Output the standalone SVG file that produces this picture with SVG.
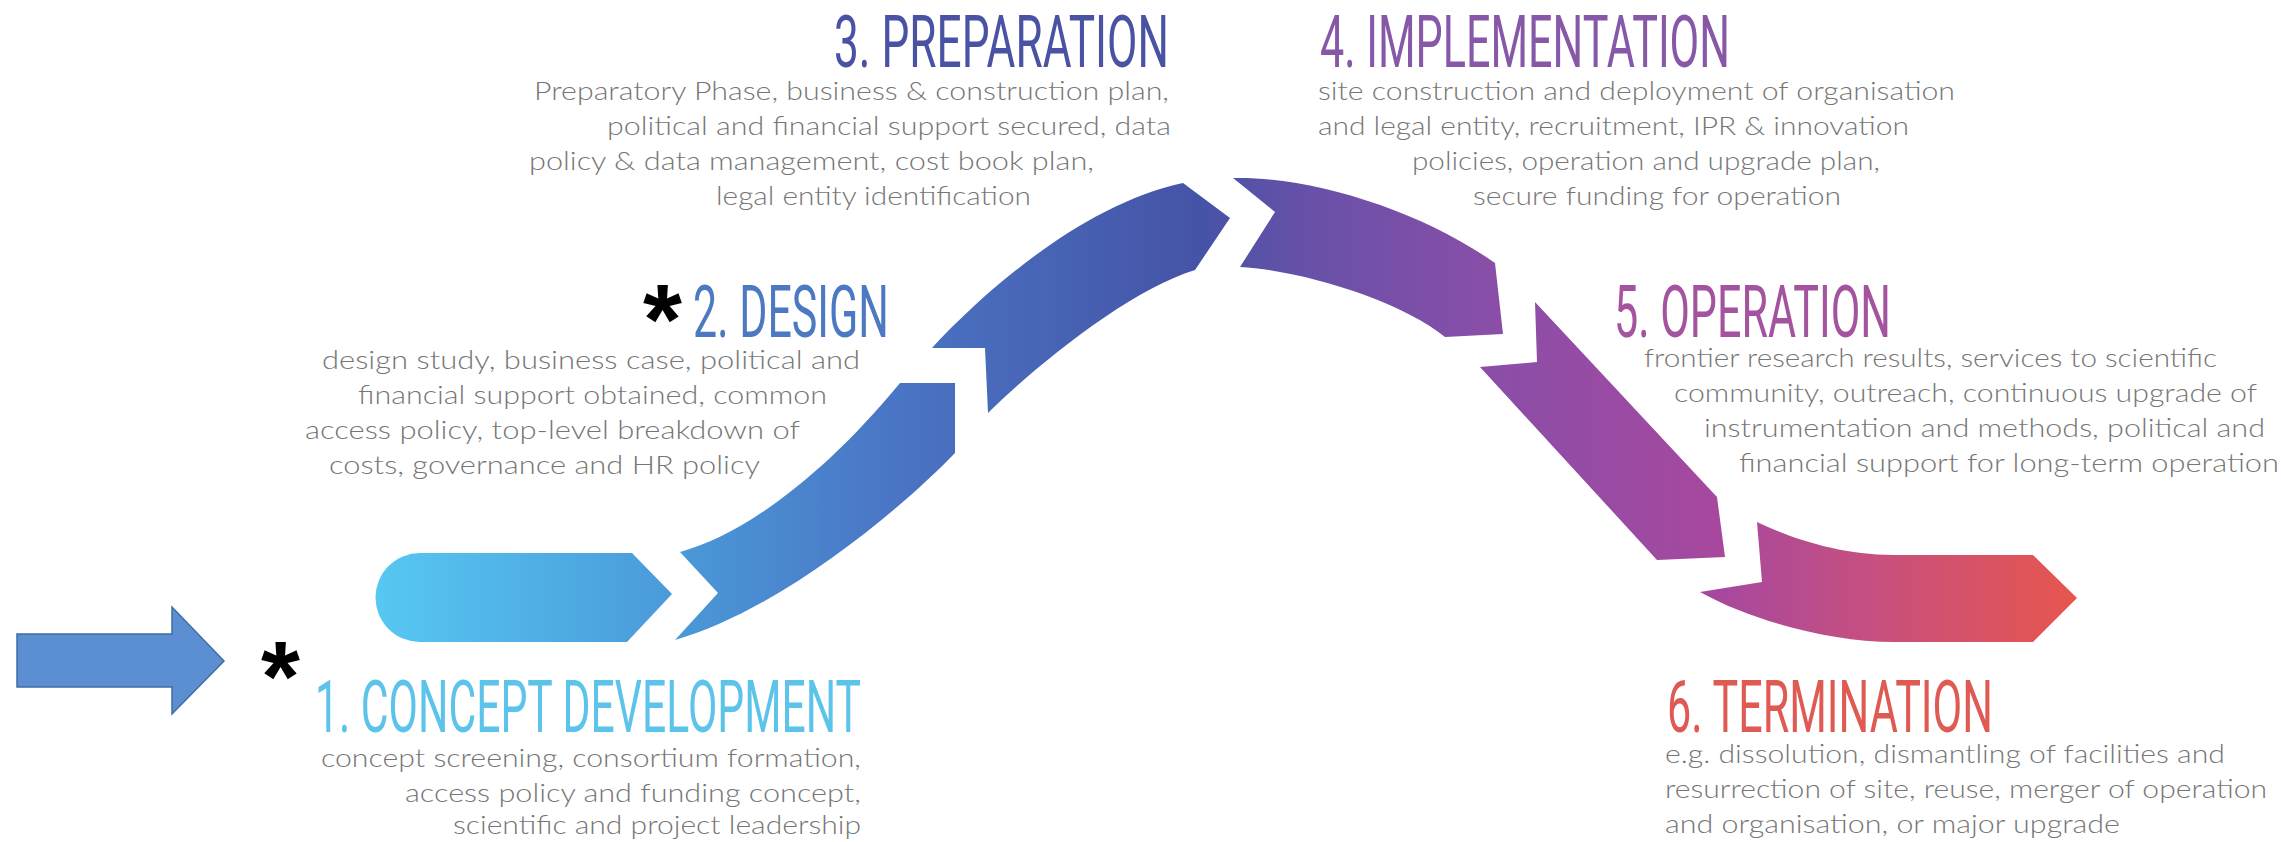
<svg xmlns="http://www.w3.org/2000/svg" width="2281" height="842" viewBox="0 0 2281 842">
<defs>
<linearGradient id="rib" gradientUnits="userSpaceOnUse" x1="376" y1="0" x2="2080" y2="0">
<stop offset="0" stop-color="#56c8f2"/>
<stop offset="0.174" stop-color="#4a9ad9"/>
<stop offset="0.307" stop-color="#4a74c4"/>
<stop offset="0.484" stop-color="#4553a6"/>
<stop offset="0.542" stop-color="#6651a8"/>
<stop offset="0.66" stop-color="#8b4ea8"/>
<stop offset="0.789" stop-color="#a7489e"/>
<stop offset="0.865" stop-color="#c24f84"/>
<stop offset="1" stop-color="#e8564d"/>
</linearGradient>
</defs>
<style>
.seg{fill:url(#rib);}
.title{font-family:Roboto,"Liberation Sans",sans-serif;font-weight:400;font-size:72px;}
.body{font-family:Lato,"Open Sans","Liberation Sans",sans-serif;font-weight:300;font-size:25px;fill:#767676;}
.star{font-family:"Liberation Sans",Arial,sans-serif;font-weight:bold;font-size:100px;fill:#000;}
</style>
<rect width="2281" height="842" fill="#ffffff"/>

<g id="annotations">
<path d="M17,634 H172 V607 L224,661 L172,714 V687 H17 Z" fill="#5b8fd2" stroke="#3f6ea3" stroke-width="1.5"/>
</g>

<g id="phase1">
<path class="seg" d="M420,553 L632,553 L672,594 L627,642 L420,642 A44.5,44.5 0 0 1 420,553 Z"/>
<text class="star" x="261" y="711">*</text>
<text class="title" x="315" y="732" fill="#5cc3ea" textLength="546" lengthAdjust="spacingAndGlyphs">1. CONCEPT DEVELOPMENT</text>
<text class="body" x="321" y="767" textLength="540" lengthAdjust="spacingAndGlyphs">concept screening, consortium formation,</text>
<text class="body" x="405" y="802" textLength="456" lengthAdjust="spacingAndGlyphs">access policy and funding concept,</text>
<text class="body" x="453" y="834" textLength="408" lengthAdjust="spacingAndGlyphs">scientific and project leadership</text>
</g>

<g id="phase2">
<path class="seg" d="M680,552 L718,593 L675,640 C780,610 900,510 955,453 L955,383 L900,383 C820,480 740,536 680,552 Z"/>
<text class="star" x="643" y="354">*</text>
<text class="title" x="693" y="337" fill="#4c79c2" textLength="196" lengthAdjust="spacingAndGlyphs">2. DESIGN</text>
<text class="body" x="322" y="369" textLength="538" lengthAdjust="spacingAndGlyphs">design study, business case, political and</text>
<text class="body" x="358" y="404" textLength="469" lengthAdjust="spacingAndGlyphs">financial support obtained, common</text>
<text class="body" x="305" y="439" textLength="495" lengthAdjust="spacingAndGlyphs">access policy, top-level breakdown of</text>
<text class="body" x="329" y="474" textLength="431" lengthAdjust="spacingAndGlyphs">costs, governance and HR policy</text>
</g>

<g id="phase3">
<path class="seg" d="M932,348 L985,348 L988,413 C1040,362 1130,290 1195,270 L1230,218 L1183,183 C1080,205 980,296 932,348 Z"/>
<text class="title" x="834" y="67" fill="#4a53a3" textLength="335" lengthAdjust="spacingAndGlyphs">3. PREPARATION</text>
<text class="body" x="534" y="100" textLength="635" lengthAdjust="spacingAndGlyphs">Preparatory Phase, business &amp; construction plan,</text>
<text class="body" x="607" y="135" textLength="564" lengthAdjust="spacingAndGlyphs">political and financial support secured, data</text>
<text class="body" x="529" y="170" textLength="565" lengthAdjust="spacingAndGlyphs">policy &amp; data management, cost book plan,</text>
<text class="body" x="716" y="205" textLength="315" lengthAdjust="spacingAndGlyphs">legal entity identification</text>
</g>

<g id="phase4">
<path class="seg" d="M1233,178 L1275,212 L1240,267 C1300,270 1400,300 1445,337 L1503,334 L1495,263 C1420,210 1310,176 1233,178 Z"/>
<text class="title" x="1320" y="67" fill="#8858a8" textLength="410" lengthAdjust="spacingAndGlyphs">4. IMPLEMENTATION</text>
<text class="body" x="1318" y="100" textLength="637" lengthAdjust="spacingAndGlyphs">site construction and deployment of organisation</text>
<text class="body" x="1318" y="135" textLength="591" lengthAdjust="spacingAndGlyphs">and legal entity, recruitment, IPR &amp; innovation</text>
<text class="body" x="1412" y="170" textLength="468" lengthAdjust="spacingAndGlyphs">policies, operation and upgrade plan,</text>
<text class="body" x="1473" y="205" textLength="368" lengthAdjust="spacingAndGlyphs">secure funding for operation</text>
</g>

<g id="phase5">
<path class="seg" d="M1535,302 L1537,362 L1480,367 L1657,560 L1725,557 L1717,497 Z"/>
<text class="title" x="1614" y="337" fill="#a4539f" textLength="277" lengthAdjust="spacingAndGlyphs">5. OPERATION</text>
<text class="body" x="1644" y="367" textLength="573" lengthAdjust="spacingAndGlyphs">frontier research results, services to scientific</text>
<text class="body" x="1674" y="402" textLength="583" lengthAdjust="spacingAndGlyphs">community, outreach, continuous upgrade of</text>
<text class="body" x="1704" y="437" textLength="561" lengthAdjust="spacingAndGlyphs">instrumentation and methods, political and</text>
<text class="body" x="1739" y="472" textLength="540" lengthAdjust="spacingAndGlyphs">financial support for long-term operation</text>
</g>

<g id="phase6">
<path class="seg" d="M1757,522 L1762,582 L1700,592 C1750,620 1830,642 1893,642 L2033,642 L2077,598 L2033,555 L1893,555 C1840,555 1790,538 1757,522 Z"/>
<text class="title" x="1667" y="732" fill="#e05a54" textLength="326" lengthAdjust="spacingAndGlyphs">6. TERMINATION</text>
<text class="body" x="1665" y="763" textLength="560" lengthAdjust="spacingAndGlyphs">e.g. dissolution, dismantling of facilities and</text>
<text class="body" x="1665" y="798" textLength="602" lengthAdjust="spacingAndGlyphs">resurrection of site, reuse, merger of operation</text>
<text class="body" x="1665" y="833" textLength="455" lengthAdjust="spacingAndGlyphs">and organisation, or major upgrade</text>
</g>

<g id="connectors"></g>
</svg>
